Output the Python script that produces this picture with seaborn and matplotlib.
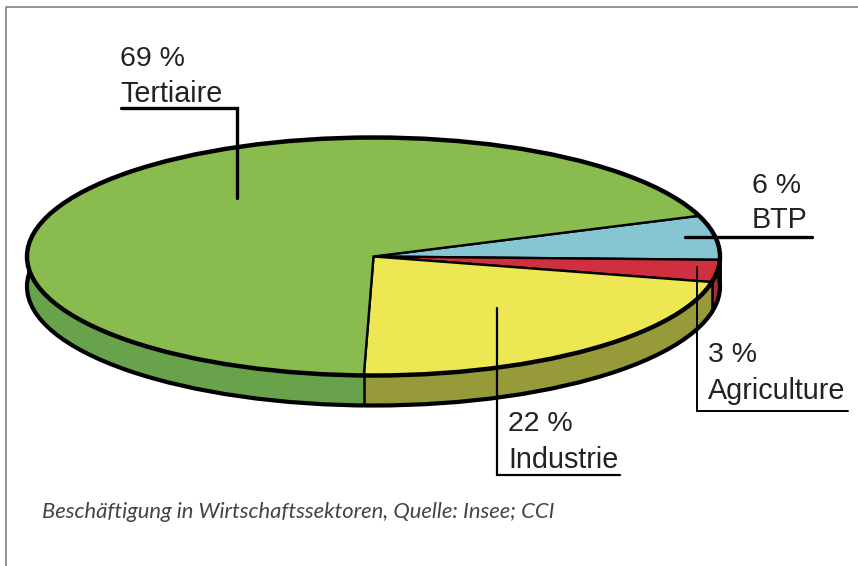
import matplotlib
matplotlib.use("Agg")
import matplotlib.pyplot as plt
from matplotlib.patches import Ellipse
import numpy as np
import seaborn as sns

# Daten aus dem Diagramm, im Uhrzeigersinn ab BTP
sectors = ["BTP", "Agriculture", "Industrie", "Tertiaire"]
shares = [6, 3, 22, 69]
share_labels = ["6 %", "3 %", "22 %", "69 %"]

top_colors = ["#86c6d3", "#d02f40", "#ece753", "#8abb4e"]
side_colors = ["#6fa5ae", "#a52b3c", "#979a38", "#68a24a"]

sns.set_theme(style="white")
plt.rcParams["font.family"] = ["Liberation Sans", "DejaVu Sans"]

W, H = 858, 566
cx, cy, rx, ry = 373.5, 256.5, 346.5, 119.0
depth = 30 / ry

fig = plt.figure(figsize=(W / 100, H / 100), dpi=100)
fig.patch.set_facecolor("white")

# Torte: flach gedrueckt ueber aspect auto
ax = fig.add_axes([0, 0, 1, 1])
for d in np.linspace(depth, 0, 31):
    ax.pie(shares, startangle=20, counterclock=False, center=(0, -d), radius=1,
           colors=sns.color_palette(side_colors),
           wedgeprops=dict(linewidth=0, zorder=1))
ax.add_patch(Ellipse((0, -depth), 2, 2, fill=False, ec="black", lw=3.0, zorder=2))

wedges, _ = ax.pie(shares, startangle=20, counterclock=False, radius=1,
                   colors=sns.color_palette(top_colors),
                   wedgeprops=dict(linewidth=1.7, edgecolor="black", zorder=3))
ax.add_patch(Ellipse((0, 0), 2, 2, fill=False, ec="black", lw=3.2, zorder=4))

# Kanten an der Seitenwand
angles = [w.theta1 for w in wedges] + [0, 180]
for a in angles:
    x, y = np.cos(np.radians(a)), np.sin(np.radians(a))
    if y <= 0:
        ax.plot([x, x], [y, y - depth], color="black", lw=1.8, zorder=2)

ax.set_aspect("auto")
ax.set_xlim(-cx / rx, (W - cx) / rx)
ax.set_ylim(-(H - cy) / ry, cy / ry)
ax.set_axis_off()

# Beschriftung in Pixelkoordinaten
ov = fig.add_axes([0, 0, 1, 1], facecolor="none")
ov.set_xlim(0, W)
ov.set_ylim(H, 0)
ov.set_axis_off()

ov.plot([6, 6, W], [H, 7, 7], color="#808080", lw=1.2)

leaders = {
    "Tertiaire": ([121, 237, 237], [108, 108, 198], 2.4),
    "BTP": ([685, 812], [237, 237], 2.4),
    "Agriculture": ([697, 697, 848], [267, 411, 411], 1.4),
    "Industrie": ([497, 497, 620], [308, 475, 475], 1.6),
}
for name in leaders:
    xs, ys, lw = leaders[name]
    ov.plot(xs, ys, color="black", lw=lw, solid_joinstyle="miter", zorder=5)

label_pos = {
    "Tertiaire": (120, 66, 102),
    "BTP": (752, 193, 228),
    "Agriculture": (708, 362, 399),
    "Industrie": (508, 431, 468),
}
for name, pct in zip(sectors, share_labels):
    x, y1, y2 = label_pos[name]
    ov.text(x, y1, pct, fontsize=20.5, color="#222222", va="baseline", ha="left")
    ov.text(x, y2, name, fontsize=20.7, color="#222222", va="baseline", ha="left")

ov.text(42, 518, "Beschäftigung in Wirtschaftssektoren, Quelle: Insee; CCI",
        family="Lato", style="italic", fontsize=15.8, color="#444444",
        va="baseline", ha="left")

fig.savefig("out.png", dpi=100)
